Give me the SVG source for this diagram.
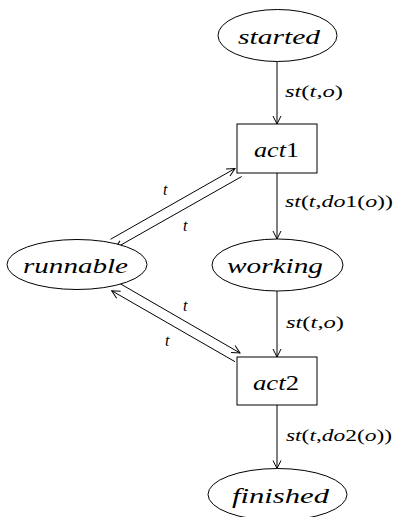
<svg xmlns="http://www.w3.org/2000/svg" width="395" height="517" viewBox="0 0 395 517">
<defs>
<marker id="arr" markerWidth="10" markerHeight="10" refX="9" refY="4.5" orient="auto" markerUnits="userSpaceOnUse">
<path d="M1,0.5 L9,4.5 L1,8.5" fill="none" stroke="#000" stroke-width="1"/>
</marker>
</defs>
<style>
.shape{fill:#fff;stroke:#000;stroke-width:1}
.edge{stroke:#000;stroke-width:1;fill:none;marker-end:url(#arr)}
.nt{font-family:"Liberation Serif",serif;font-style:italic;font-size:22px;fill:#000}
.lt{font-family:"Liberation Serif",serif;font-style:italic;font-size:16px;fill:#000}
.up{font-style:normal}
</style>
<rect width="395" height="517" fill="#fff"/>
<g id="edges">
<line class="edge" x1="277" y1="61.5" x2="277" y2="124"/>
<line class="edge" x1="277" y1="173" x2="277" y2="239"/>
<line class="edge" x1="277" y1="291" x2="277" y2="357"/>
<line class="edge" x1="277" y1="405" x2="277" y2="468.5"/>
<line class="edge" x1="110.5" y1="239.3" x2="235" y2="168.5"/>
<line class="edge" x1="241.7" y1="176.5" x2="115" y2="248.3"/>
<line class="edge" x1="116.7" y1="281.7" x2="240" y2="353"/>
<line class="edge" x1="235" y1="361.7" x2="111.7" y2="290.7"/>
<text class="lt" x="285" y="97" textLength="58" lengthAdjust="spacingAndGlyphs">st<tspan class="up">(</tspan>t<tspan class="up">,</tspan>o<tspan class="up">)</tspan></text>
<text class="lt" x="285" y="207" textLength="108" lengthAdjust="spacingAndGlyphs">st<tspan class="up">(</tspan>t<tspan class="up">,</tspan>do<tspan class="up">1(</tspan>o<tspan class="up">))</tspan></text>
<text class="lt" x="286" y="328" textLength="58" lengthAdjust="spacingAndGlyphs">st<tspan class="up">(</tspan>t<tspan class="up">,</tspan>o<tspan class="up">)</tspan></text>
<text class="lt" x="286" y="441" textLength="106" lengthAdjust="spacingAndGlyphs">st<tspan class="up">(</tspan>t<tspan class="up">,</tspan>do<tspan class="up">2(</tspan>o<tspan class="up">))</tspan></text>
<text class="lt" x="163" y="195">t</text>
<text class="lt" x="183" y="231">t</text>
<text class="lt" x="183" y="311">t</text>
<text class="lt" x="165" y="346">t</text>
</g>
<g id="started">
<ellipse class="shape" cx="277.5" cy="35.5" rx="59.5" ry="26"/>
<text class="nt" x="238" y="43.5" textLength="82" lengthAdjust="spacingAndGlyphs">started</text>
</g>
<g id="act1">
<rect class="shape" x="237" y="124" width="80" height="49"/>
<text class="nt" x="254" y="157" textLength="45" lengthAdjust="spacingAndGlyphs">act<tspan class="up">1</tspan></text>
</g>
<g id="runnable">
<ellipse class="shape" cx="77" cy="264.5" rx="70" ry="25"/>
<text class="nt" x="23" y="272.5" textLength="105" lengthAdjust="spacingAndGlyphs">runnable</text>
</g>
<g id="working">
<ellipse class="shape" cx="277.5" cy="265" rx="65.5" ry="26"/>
<text class="nt" x="227" y="272.5" textLength="96" lengthAdjust="spacingAndGlyphs">working</text>
</g>
<g id="act2">
<rect class="shape" x="237" y="357" width="80" height="48"/>
<text class="nt" x="253" y="389.5" textLength="46" lengthAdjust="spacingAndGlyphs">act<tspan class="up">2</tspan></text>
</g>
<g id="finished">
<ellipse class="shape" cx="277.5" cy="494.5" rx="69.5" ry="26"/>
<text class="nt" x="232" y="503" textLength="97" lengthAdjust="spacingAndGlyphs">finished</text>
</g>
</svg>
